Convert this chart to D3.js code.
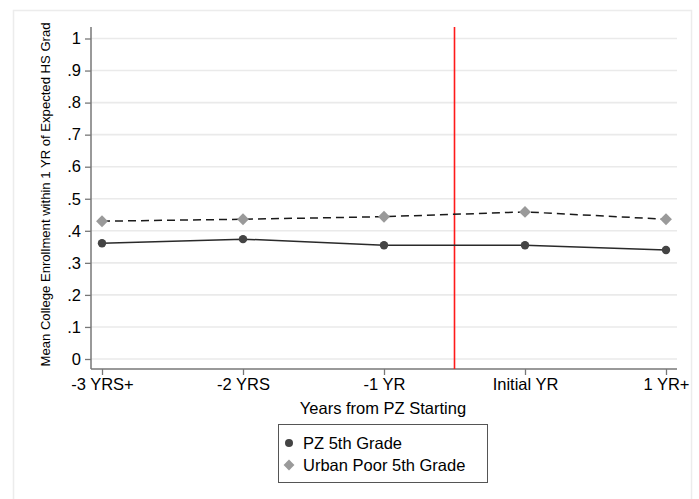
<!DOCTYPE html>
<html><head><meta charset="utf-8">
<script src="https://cdn.jsdelivr.net/npm/d3@7"></script>
<style>body{margin:0;background:#fff;}svg{display:block;font-family:"Liberation Sans",Arial,sans-serif;}</style>
</head><body>
<script>
const categories = ["-3 YRS+", "-2 YRS", "-1 YR", "Initial YR", "1 YR+"];
const pzValues = [0.361, 0.374, 0.355, 0.355, 0.340];
const urbanValues = [0.430, 0.436, 0.444, 0.459, 0.436];
const yTicks = [0, 0.1, 0.2, 0.3, 0.4, 0.5, 0.6, 0.7, 0.8, 0.9, 1];
const yTickLabels = ["0", ".1", ".2", ".3", ".4", ".5", ".6", ".7", ".8", ".9", "1"];
const seriesNames = ["PZ 5th Grade", "Urban Poor 5th Grade"];
const cutoff = 2.5;

const W = 699, H = 499;
const svg = d3.select("body").append("svg").attr("width", W).attr("height", H);

svg.append("rect").attr("x", 13.5).attr("y", 10.5).attr("width", 678).attr("height", 500)
  .attr("fill", "#fff").attr("stroke", "#ececec").attr("stroke-width", 1.5);

const x = d3.scaleLinear().domain([0, 4]).range([102, 666]);
const y = d3.scaleLinear().domain([0, 1]).range([359, 38.5]);
const axL = 91, axR = 677, axTop = 27, axBot = 369;
const FS = 16.5;

svg.append("g").selectAll("line").data(yTicks).join("line")
  .attr("x1", axL).attr("x2", axR).attr("y1", d => y(d)).attr("y2", d => y(d))
  .attr("stroke", "#eaeaea").attr("stroke-width", 1.6);

const yAxis = d3.axisLeft(y).tickValues(yTicks).tickFormat((d, i) => yTickLabels[i]).tickSize(6).tickSizeOuter(0);
const gy = svg.append("g").attr("transform", `translate(${axL},0)`).call(yAxis)
  .attr("font-size", FS).attr("font-family", "Liberation Sans, Arial, sans-serif");
gy.select(".domain").remove();
gy.append("line").attr("x1", 0).attr("x2", 0).attr("y1", axTop).attr("y2", axBot).attr("stroke", "#777").attr("stroke-width", 1.5);
gy.selectAll(".tick line").attr("stroke", "#777").attr("stroke-width", 1.3);
gy.selectAll(".tick text").attr("fill", "#000").attr("x", -10);

const xAxis = d3.axisBottom(x).tickValues(d3.range(categories.length)).tickFormat((d, i) => categories[i]).tickSize(6).tickSizeOuter(0);
const gx = svg.append("g").attr("transform", `translate(0,${axBot})`).call(xAxis)
  .attr("font-size", FS).attr("font-family", "Liberation Sans, Arial, sans-serif");
gx.select(".domain").remove();
gx.append("line").attr("x1", axL).attr("x2", axR).attr("y1", 0).attr("y2", 0).attr("stroke", "#777").attr("stroke-width", 1.5);
gx.selectAll(".tick line").attr("stroke", "#777").attr("stroke-width", 1.3);
gx.selectAll(".tick text").attr("fill", "#000").attr("y", 9);

svg.append("text").attr("x", 383).attr("y", 414).attr("text-anchor", "middle")
  .attr("font-size", FS).text("Years from PZ Starting");
svg.append("text").attr("transform", `translate(50,${194.5}) rotate(-90)`).attr("text-anchor", "middle")
  .attr("font-size", 13.1).text("Mean College Enrollment within 1 YR of Expected HS Grad");

svg.append("line").attr("x1", x(cutoff)).attr("x2", x(cutoff)).attr("y1", axTop).attr("y2", axBot)
  .attr("stroke", "#ff1a1a").attr("stroke-width", 1.6);

const line = d3.line().x((d, i) => x(i)).y(d => y(d));
svg.append("path").datum(urbanValues).attr("d", line).attr("fill", "none")
  .attr("stroke", "#1a1a1a").attr("stroke-width", 1.5).attr("stroke-dasharray", "8,5");
svg.append("path").datum(pzValues).attr("d", line).attr("fill", "none")
  .attr("stroke", "#2a2a2a").attr("stroke-width", 1.5);

const diamond = d3.symbol().type(d3.symbolDiamond2).size(90);
svg.append("g").selectAll("path").data(urbanValues).join("path")
  .attr("d", diamond).attr("transform", (d, i) => `translate(${x(i)},${y(d)})`).attr("fill", "#9a9a9a");
svg.append("g").selectAll("circle").data(pzValues).join("circle")
  .attr("cx", (d, i) => x(i)).attr("cy", d => y(d)).attr("r", 4.2).attr("fill", "#444");

const lg = svg.append("g");
lg.append("rect").attr("x", 278.5).attr("y", 424.5).attr("width", 209).attr("height", 58)
  .attr("fill", "#fff").attr("stroke", "#555").attr("stroke-width", 1);
lg.append("circle").attr("cx", 289).attr("cy", 443).attr("r", 4).attr("fill", "#444");
lg.append("path").attr("d", d3.symbol().type(d3.symbolDiamond2).size(75)).attr("transform", "translate(289,465)").attr("fill", "#9a9a9a");
lg.append("text").attr("x", 303).attr("y", 449).attr("font-size", FS).text(seriesNames[0]);
lg.append("text").attr("x", 303).attr("y", 471).attr("font-size", FS).text(seriesNames[1]);
</script>
</body></html>
